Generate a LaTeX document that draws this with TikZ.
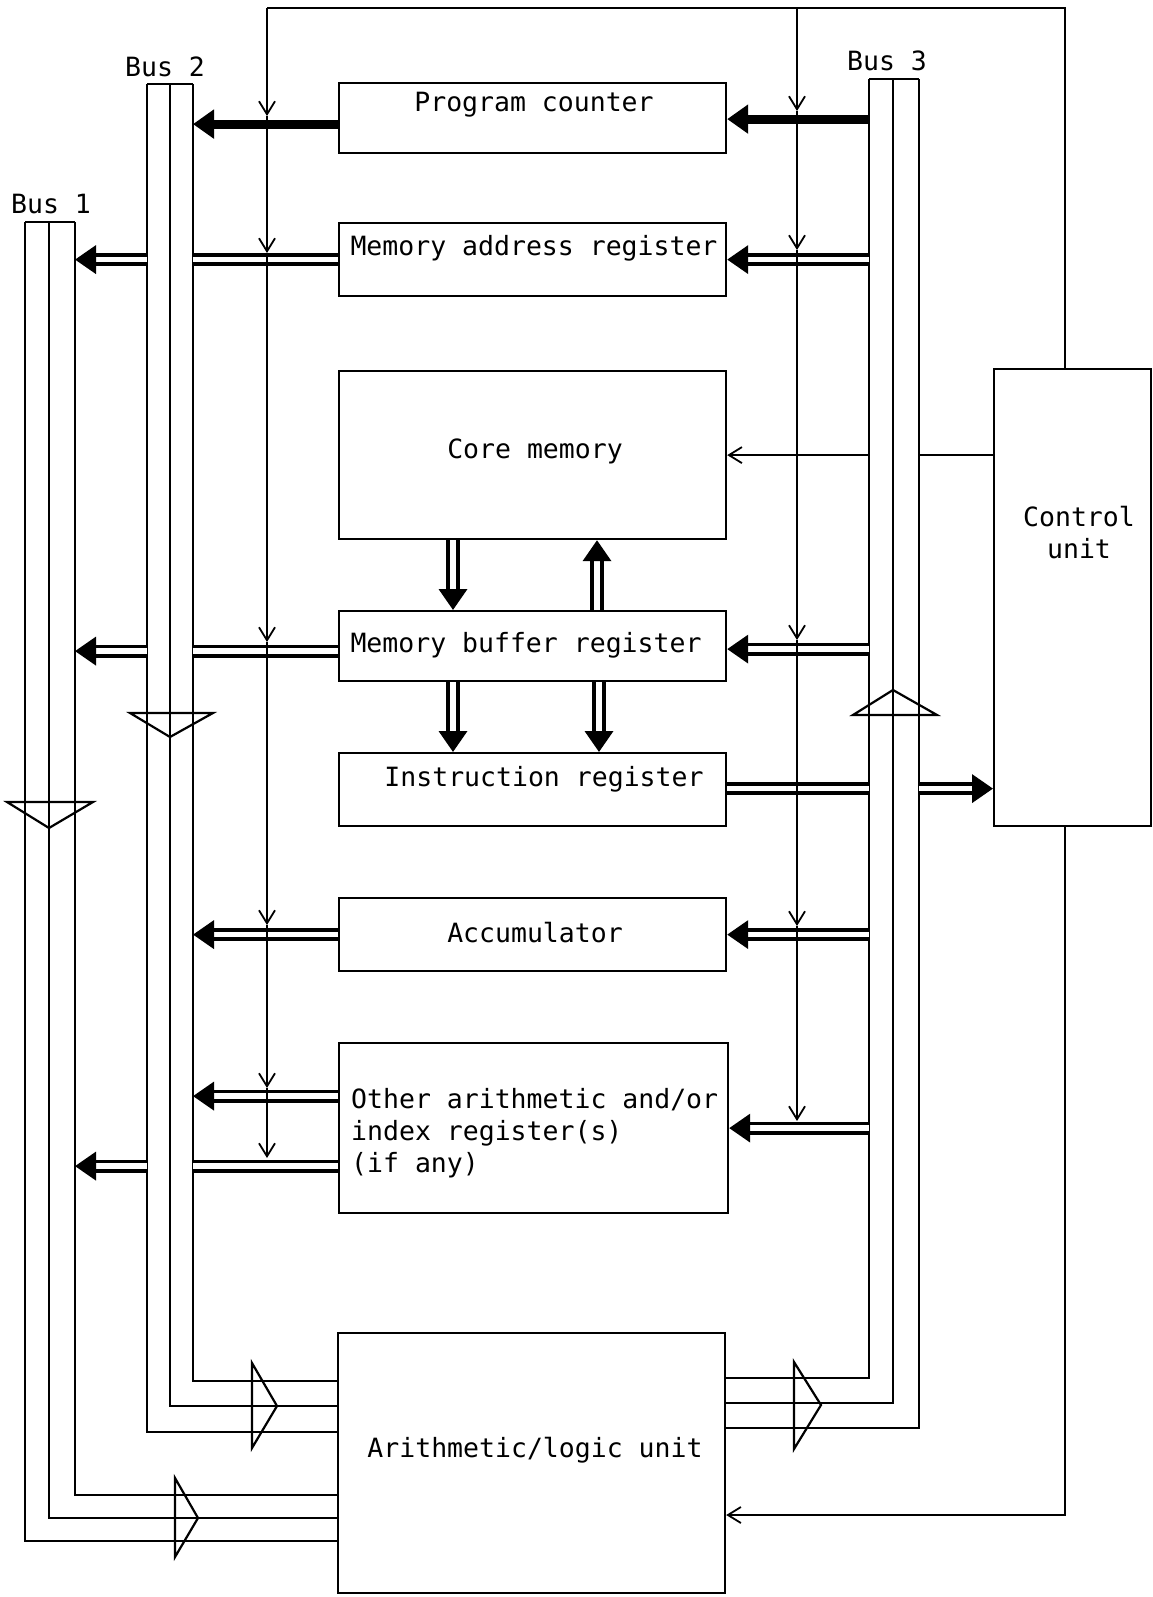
\documentclass[tikz,border=0pt]{standalone}
\usepackage{fontspec}
\setmainfont{DejaVu Sans Mono}
\usetikzlibrary{arrows.meta,calc}
\begin{document}
\begin{tikzpicture}[x=1pt,y=-1pt,
  box/.style={draw,line width=2.2pt,inner sep=0pt,anchor=north west},
  txt/.style={inner sep=0pt,font=\fontsize{26.5}{32}\selectfont},
  bus/.style={line width=2.2pt},
  tri/.style={line width=2.2pt,line join=miter},
  fat/.style={line width=9pt,-{Triangle[length=21pt,width=28pt]}},
  dbl/.style={double,double distance=5.5pt,line width=3.8pt},
  dblarrow/.style={dbl,-{Triangle[length=21pt,width=28pt]}},
  ctl/.style={line width=1.7pt,-{Straight Barb[length=13pt,width=16pt,line width=1.8pt]}},
  ctlplain/.style={line width=1.7pt}
]
\useasboundingbox (0,0) rectangle (1152,1597);
\fill[white] (0,0) rectangle (1152,1597);

% boxes
\node[box,minimum width=387pt,minimum height=70pt] (pc) at (338,82) {};
\node[box,minimum width=387pt,minimum height=73pt] (mar) at (338,222) {};
\node[box,minimum width=387pt,minimum height=168pt] (core) at (338,370) {};
\node[box,minimum width=387pt,minimum height=70pt] (mbr) at (338,610) {};
\node[box,minimum width=387pt,minimum height=73pt] (ir) at (338,752) {};
\node[box,minimum width=387pt,minimum height=73pt] (acc) at (338,897) {};
\node[box,minimum width=389pt,minimum height=170pt] (oth) at (338,1042) {};
\node[box,minimum width=387pt,minimum height=260pt] (alu) at (337,1332) {};
\node[box,minimum width=157pt,minimum height=457pt] (cu) at (993,368) {};

% texts
\node[txt] (pcT) at (534,105) {Program counter};
\node[txt] (marT) at (534,248) {Memory address register};
\node[txt] (coreT) at (535,451) {Core memory};
\node[txt] (mbrT) at (526,645) {Memory buffer register};
\node[txt] (irT) at (544,779) {Instruction register};
\node[txt] (accT) at (535,933) {Accumulator};
\node[txt,anchor=west,align=left] (othT) at (351,1133) {Other arithmetic and/or\\index register(s)\\(if any)};
\node[txt] (aluT) at (535,1450) {Arithmetic/logic unit};
\node[txt,align=center] (cuT) at (1079,533) {Control\\unit};
\node[txt] (b1T) at (51,204) {Bus 1};
\node[txt] (b2T) at (165,67) {Bus 2};
\node[txt] (b3T) at (887,61) {Bus 3};

% bus reference coordinates
\coordinate (b1r) at (75,0);
\coordinate (b2l) at (147,0);
\coordinate (b2r) at (193,0);
\coordinate (b3l) at (869,0);
\coordinate (b3r) at (919,0);

% Bus 1
\draw[bus] (25,222) -- (75,222);
\draw[bus] (75,222) -- (75,1495) -- (alu.west |- 0,1495);
\draw[bus] (49,222) -- (49,1518) -- (alu.west |- 0,1518);
\draw[bus] (25,222) -- (25,1541) -- (alu.west |- 0,1541);
% Bus 2
\draw[bus] (147,84) -- (193,84);
\draw[bus] (193,84) -- (193,1381) -- (alu.west |- 0,1381);
\draw[bus] (170,84) -- (170,1406) -- (alu.west |- 0,1406);
\draw[bus] (147,84) -- (147,1432) -- (alu.west |- 0,1432);
% Bus 3
\draw[bus] (869,79) -- (919,79);
\draw[bus] (869,79) -- (869,1378) -- (alu.east |- 0,1378);
\draw[bus] (893,79) -- (893,1403) -- (alu.east |- 0,1403);
\draw[bus] (919,79) -- (919,1428) -- (alu.east |- 0,1428);

% direction triangles
\draw[tri] (130,713) -- (213,713) -- (170,737) -- cycle;
\draw[tri] (7,802) -- (93,802) -- (49,828) -- cycle;
\draw[tri] (853,715) -- (937,715) -- (893,690) -- cycle;
\draw[tri] (252,1363) -- (277,1406) -- (252,1448) -- cycle;
\draw[tri] (175,1478) -- (198,1518) -- (175,1557) -- cycle;
\draw[tri] (794,1362) -- (821,1405) -- (794,1449) -- cycle;

% data paths
\coordinate (pcL) at ([yshift=-6pt]pc.west);
\coordinate (pcR) at ([yshift=-1pt]pc.east);
\draw[fat] (pcL) -- (pcL -| b2r);
\draw[fat] (pcR -| b3l) -- (pcR);

\draw[dbl] (mar.west) -- (mar.west -| b2r);
\draw[dblarrow] (mar.west -| b2l) -- (mar.west -| b1r);
\draw[dblarrow] (mar.east -| b3l) -- (mar.east);

\coordinate (mbrL) at ([yshift=-5pt]mbr.west);
\coordinate (mbrR) at ([yshift=-3pt]mbr.east);
\draw[dbl] (mbrL) -- (mbrL -| b2r);
\draw[dblarrow] (mbrL -| b2l) -- (mbrL -| b1r);
\draw[dblarrow] (mbrR -| b3l) -- (mbrR);

\coordinate (irR) at ([yshift=1pt]ir.east);
\draw[dbl] (irR) -- (irR -| b3l);
\draw[dblarrow] (irR -| b3r) -- (irR -| cu.west);

\draw[dblarrow] (acc.west) -- (acc.west -| b2r);
\draw[dblarrow] (acc.east -| b3l) -- (acc.east);

\coordinate (o1) at ([yshift=32pt]oth.west);
\coordinate (o2) at ([yshift=-38pt]oth.west);
\draw[dblarrow] (o1) -- (o1 -| b2r);
\draw[dbl] (o2) -- (o2 -| b2r);
\draw[dblarrow] (o2 -| b2l) -- (o2 -| b1r);
\draw[dblarrow] (oth.east -| b3l) -- (oth.east);

% core <-> MBR <-> IR
\coordinate (v1) at (453,0);
\coordinate (v2) at (597,0);
\coordinate (v3) at (599,0);
\draw[dblarrow] (core.south -| v1) -- (mbr.north -| v1);
\draw[dblarrow] (mbr.north -| v2) -- (core.south -| v2);
\draw[dblarrow] (mbr.south -| v1) -- (ir.north -| v1);
\draw[dblarrow] (mbr.south -| v3) -- (ir.north -| v3);

% control lines
\coordinate (ctr) at (1065,8);
\coordinate (ctlft) at (267,8);
\coordinate (ctm) at (797,8);
\draw[ctlplain] (cu.north -| ctr) -- (ctr) -- (ctlft);

\coordinate (l1) at (267,116);
\coordinate (l2) at (267,253);
\coordinate (l3) at (267,642);
\coordinate (l4) at (267,925);
\coordinate (l5) at (267,1088);
\coordinate (l6) at (267,1158);
\draw[ctl] (ctlft) -- (l1);
\draw[ctl] (l1) -- (l2);
\draw[ctl] (l2) -- (l3);
\draw[ctl] (l3) -- (l4);
\draw[ctl] (l4) -- (l5);
\draw[ctl] (l5) -- (l6);

\coordinate (r1) at (797,111);
\coordinate (r2) at (797,250);
\coordinate (r3) at (797,640);
\coordinate (r4) at (797,926);
\coordinate (r5) at (797,1121);
\draw[ctl] (ctm) -- (r1);
\draw[ctl] (r1) -- (r2);
\draw[ctl] (r2) -- (r3);
\draw[ctl] (r3) -- (r4);
\draw[ctl] (r4) -- (r5);

% control unit -> core memory
\draw[ctlplain] (cu.west |- core.east) -- (core.east -| b3r);
\draw[ctl] (core.east -| b3l) -- (core.east);

% control unit -> ALU
\coordinate (cub) at (1065,1515);
\draw[ctl] (cu.south -| cub) -- (cub) -- (cub -| alu.east);
\end{tikzpicture}
\end{document}
